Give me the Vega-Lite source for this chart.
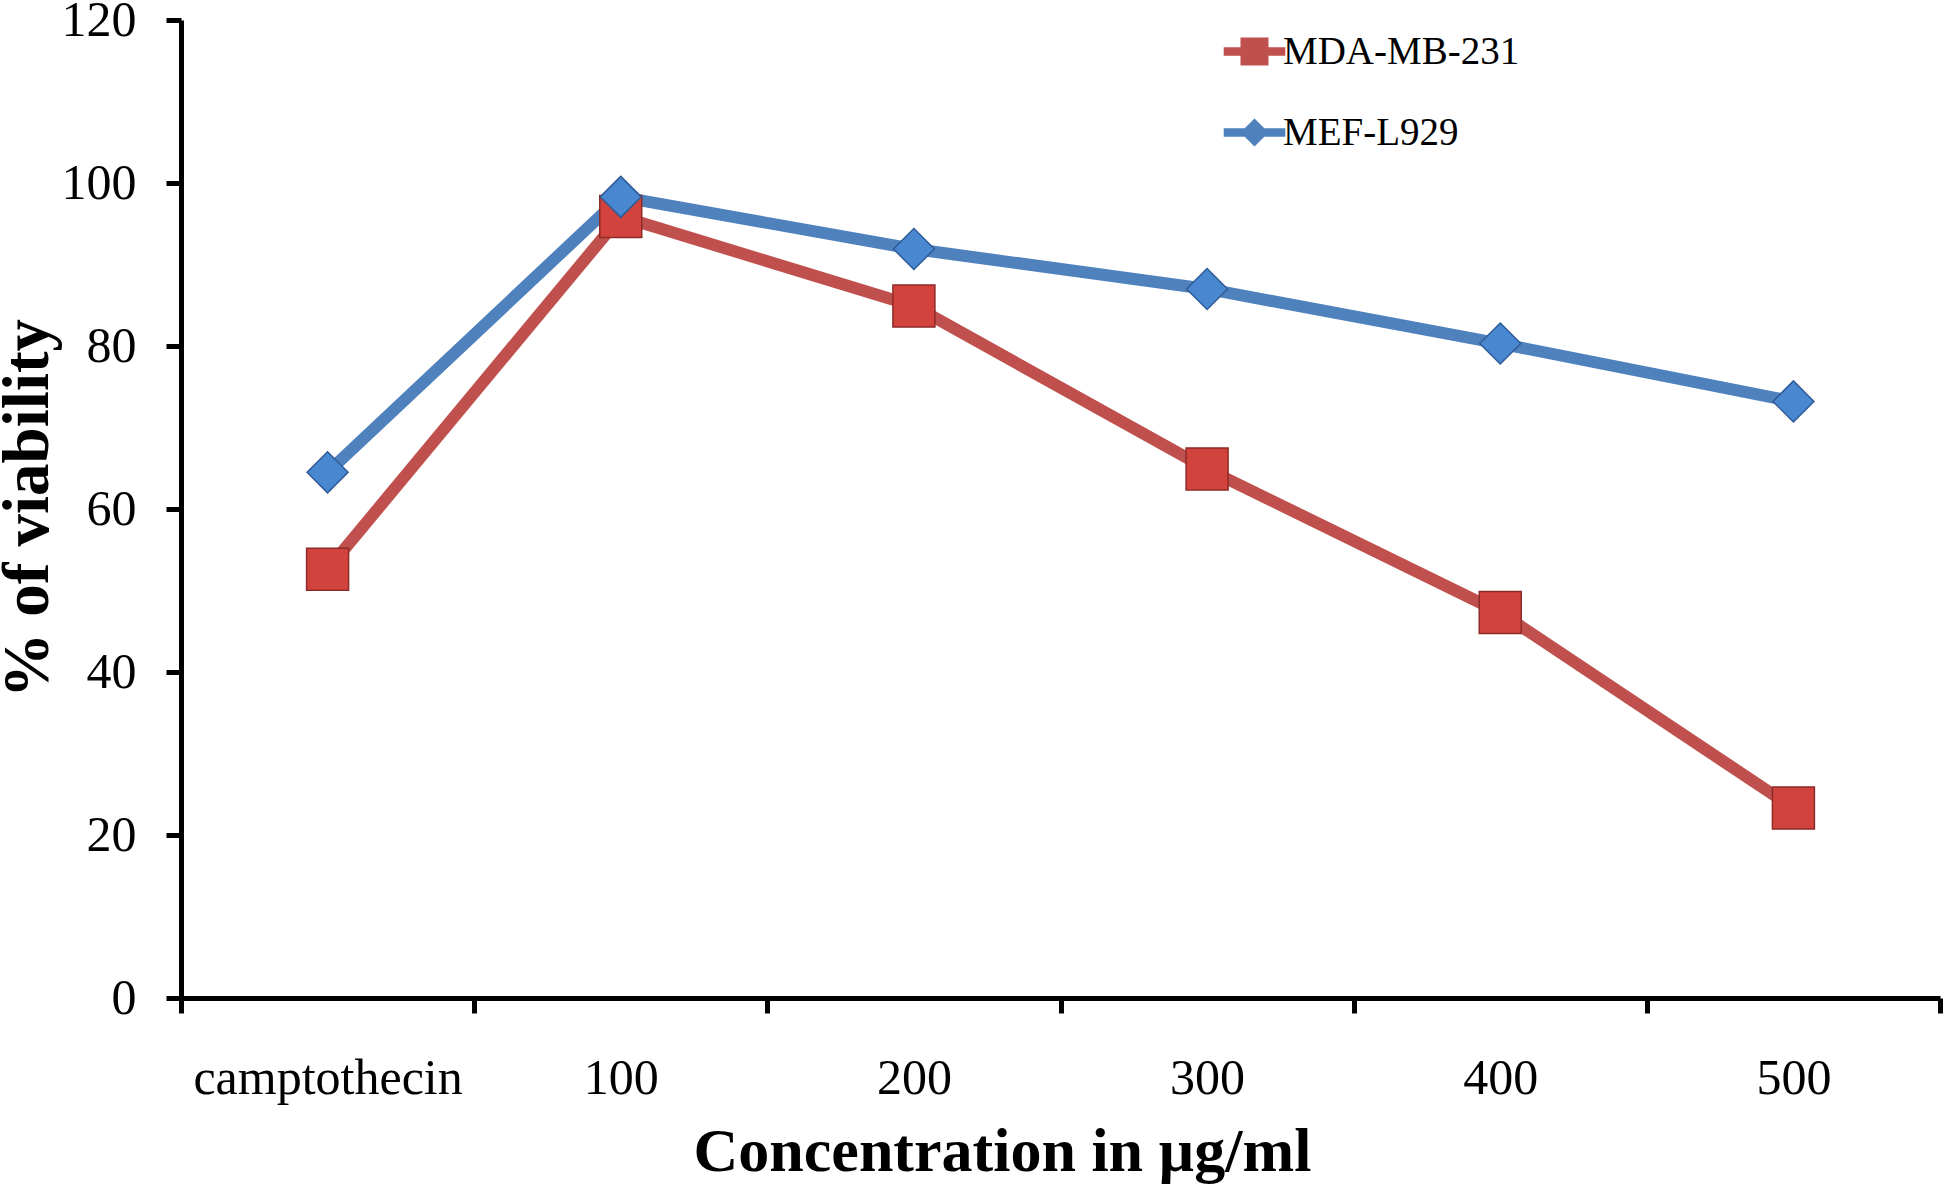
{
  "$schema": "https://vega.github.io/schema/vega-lite/v6.json",
  "width": 1759,
  "height": 978,
  "autosize": {"type": "none"},
  "padding": {"left": 181, "top": 20, "right": 6, "bottom": 189},
  "background": "white",
  "config": {"view": {"stroke": null}, "font": "Liberation Serif"},
  "data": {
    "values": [
      {"conc": "camptothecin", "series": "MDA-MB-231", "viability": 52.6},
      {"conc": "100", "series": "MDA-MB-231", "viability": 95.9},
      {"conc": "200", "series": "MDA-MB-231", "viability": 84.9},
      {"conc": "300", "series": "MDA-MB-231", "viability": 64.9},
      {"conc": "400", "series": "MDA-MB-231", "viability": 47.3},
      {"conc": "500", "series": "MDA-MB-231", "viability": 23.3},
      {"conc": "camptothecin", "series": "MEF-L929", "viability": 64.5},
      {"conc": "100", "series": "MEF-L929", "viability": 98.3},
      {"conc": "200", "series": "MEF-L929", "viability": 91.9},
      {"conc": "300", "series": "MEF-L929", "viability": 87.0},
      {"conc": "400", "series": "MEF-L929", "viability": 80.3},
      {"conc": "500", "series": "MEF-L929", "viability": 73.2}
    ]
  },
  "encoding": {
    "x": {
      "field": "conc",
      "type": "nominal",
      "sort": ["camptothecin", "100", "200", "300", "400", "500"],
      "scale": {"type": "band", "paddingInner": 0, "paddingOuter": 0},
      "axis": {
        "title": "Concentration in µg/ml",
        "titleFont": "Liberation Serif",
        "titleFontSize": 62,
        "titleFontWeight": "bold",
        "titleColor": "black",
        "titleX": 821,
        "titleY": 172,
        "titleBaseline": "alphabetic",
        "titleAlign": "center",
        "labelFont": "Liberation Serif",
        "labelFontSize": 50,
        "labelColor": "black",
        "labelAngle": 0,
        "labelPadding": 80,
        "labelBaseline": "alphabetic",
        "labelOverlap": false,
        "labelLimit": 500,
        "tickBand": "extent",
        "tickSize": 15,
        "tickWidth": 5,
        "tickColor": "black",
        "domainWidth": 5,
        "domainColor": "black",
        "grid": false
      }
    },
    "y": {
      "field": "viability",
      "type": "quantitative",
      "scale": {"domain": [0, 120], "nice": false},
      "axis": {
        "title": "% of viability",
        "titleFont": "Liberation Serif",
        "titleFontSize": 65,
        "titleFontWeight": "bold",
        "titleColor": "black",
        "titleX": -134,
        "titleY": 488,
        "titleAngle": 270,
        "titleBaseline": "alphabetic",
        "titleAlign": "center",
        "values": [0, 20, 40, 60, 80, 100, 120],
        "labelFont": "Liberation Serif",
        "labelFontSize": 50,
        "labelColor": "black",
        "labelPadding": 30,
        "tickSize": 15,
        "tickWidth": 5,
        "tickColor": "black",
        "domainWidth": 5,
        "domainColor": "black",
        "grid": false
      }
    }
  },
  "layer": [
    {
      "mark": {"type": "line", "strokeWidth": 12, "strokeCap": "butt", "strokeJoin": "round"},
      "encoding": {
        "color": {
          "field": "series",
          "type": "nominal",
          "scale": {"domain": ["MDA-MB-231", "MEF-L929"], "range": ["#C0504D", "#4F81BD"]},
          "legend": null
        }
      }
    },
    {
      "mark": {"type": "point", "filled": true, "opacity": 1, "strokeWidth": 1.5},
      "encoding": {
        "fill": {
          "field": "series",
          "type": "nominal",
          "scale": {"domain": ["MDA-MB-231", "MEF-L929"], "range": ["#D3433D", "#4A87D1"]},
          "legend": null
        },
        "stroke": {
          "field": "series",
          "type": "nominal",
          "scale": {"domain": ["MDA-MB-231", "MEF-L929"], "range": ["#8E2A27", "#2E5C96"]},
          "legend": null
        },
        "shape": {
          "field": "series",
          "type": "nominal",
          "scale": {"domain": ["MDA-MB-231", "MEF-L929"], "range": ["square", "diamond"]},
          "legend": null
        },
        "size": {
          "field": "series",
          "type": "nominal",
          "scale": {"domain": ["MDA-MB-231", "MEF-L929"], "range": [1764, 1680]},
          "legend": null
        }
      }
    },
    {
      "mark": {"type": "point", "filled": true, "opacity": 0},
      "encoding": {
        "color": {
          "field": "series",
          "type": "nominal",
          "scale": {"domain": ["MDA-MB-231", "MEF-L929"], "range": ["#C0504D", "#4F81BD"]},
          "legend": {
            "title": null,
            "orient": "none",
            "legendX": 1054,
            "legendY": 12,
            "padding": 0,
            "labelFont": "Liberation Serif",
            "labelFontSize": 39,
            "labelColor": "black",
            "labelOffset": 9,
            "labelLimit": 400,
            "symbolSize": 784,
            "symbolOpacity": 1,
            "symbolStrokeWidth": 0,
            "rowPadding": 41
          }
        },
        "shape": {
          "field": "series",
          "type": "nominal",
          "scale": {
            "domain": ["MDA-MB-231", "MEF-L929"],
            "range": [
              "M-2.2,-0.3L-1,-0.3L-1,-1L1,-1L1,-0.3L2.2,-0.3L2.2,0.3L1,0.3L1,1L-1,1L-1,0.3L-2.2,0.3Z",
              "M-2.2,-0.3L-0.7,-0.3L0,-1L0.7,-0.3L2.2,-0.3L2.2,0.3L0.7,0.3L0,1L-0.7,0.3L-2.2,0.3Z"
            ]
          },
          "legend": {
            "title": null,
            "orient": "none",
            "legendX": 1054,
            "legendY": 12,
            "padding": 0,
            "labelFont": "Liberation Serif",
            "labelFontSize": 39,
            "labelColor": "black",
            "labelOffset": 9,
            "labelLimit": 400,
            "symbolSize": 784,
            "symbolOpacity": 1,
            "symbolStrokeWidth": 0,
            "rowPadding": 41
          }
        }
      }
    }
  ],
  "resolve": {"scale": {"color": "independent", "shape": "independent", "fill": "independent", "stroke": "independent", "size": "independent"}}
}
